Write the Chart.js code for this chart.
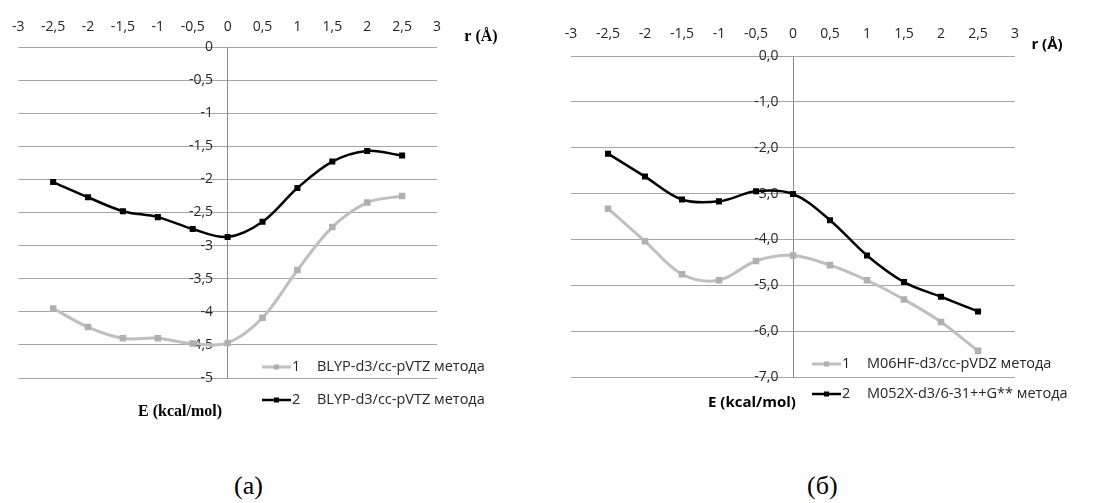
<!DOCTYPE html>
<html>
<head>
<meta charset="utf-8">
<script src="https://cdn.jsdelivr.net/npm/chart.js@4/dist/chart.umd.min.js"></script>
<style>
  body { margin: 0; background: #fff; width: 1099px; height: 503px; position: relative; overflow: hidden; }
  canvas { position: absolute; top: 0; }
  .caption { position: absolute; top: 471px; font-family: "Liberation Serif", serif; font-size: 26px; color: #000; }
</style>
</head>
<body>
<canvas id="chartA" width="540" height="430" style="left:0px"></canvas>
<canvas id="chartB" width="549" height="430" style="left:550px"></canvas>
<div class="caption" style="left:234px">(a)</div>
<div class="caption" style="left:807px">(б)</div>
<script>
// positions along the reaction coordinate, r (Å)
const rValues = [-2.5, -2, -1.5, -1, -0.5, 0, 0.5, 1, 1.5, 2, 2.5];

// (a) BLYP-d3/cc-pVTZ
const blypLabels = ['BLYP-d3/cc-pVTZ метода', 'BLYP-d3/cc-pVTZ метода'];
const blypSeries1 = [-3.95, -4.23, -4.40, -4.40, -4.48, -4.47, -4.09, -3.37, -2.72, -2.35, -2.25];
const blypSeries2 = [-2.04, -2.27, -2.48, -2.57, -2.75, -2.87, -2.64, -2.13, -1.73, -1.57, -1.64];

// (б) M06HF / M052X
const mLabels = ['M06HF-d3/cc-pVDZ метода', 'M052X-d3/6-31++G** метода'];
const m06Series = [-3.33, -4.04, -4.76, -4.89, -4.47, -4.35, -4.56, -4.89, -5.31, -5.80, -6.43];
const m052Series = [-2.13, -2.63, -3.13, -3.17, -2.95, -3.01, -3.58, -4.35, -4.93, -5.25, -5.57];

const grayColor = '#bfbfbf';
const blackColor = '#000000';
const tickColor = '#262626';
const sansFont = '"Open Sans", "Liberation Sans", sans-serif';

function toPoints(values) {
  return rValues.map((r, i) => ({ x: r, y: values[i] }));
}

function commaNum(v) {
  return String(v).replace('.', ',');
}

// legend + axis titles drawn onto the canvas
const extrasPlugin = {
  id: 'extras',
  afterDraw(chart, args, opts) {
    const ctx = chart.ctx;
    ctx.save();
    ctx.textBaseline = 'middle';
    // axis titles
    ctx.fillStyle = '#000';
    ctx.font = opts.titleFont;
    ctx.textAlign = 'center';
    ctx.fillText('r (Å)', opts.rTitle[0], opts.rTitle[1]);
    ctx.fillText('E (kcal/mol)', opts.eTitle[0], opts.eTitle[1]);
    // legend
    ctx.textAlign = 'left';
    ctx.font = '14.5px ' + sansFont;
    chart.data.datasets.forEach((ds, i) => {
      const y = opts.legendY[i];
      const x0 = opts.legendX;
      ctx.strokeStyle = ds.borderColor;
      ctx.lineWidth = ds.borderWidth;
      ctx.beginPath();
      ctx.moveTo(x0, y);
      ctx.lineTo(x0 + 29, y);
      ctx.stroke();
      ctx.fillStyle = ds.pointBackgroundColor;
      ctx.fillRect(x0 + 12, y - 2.5, 5, 5);
      ctx.fillStyle = tickColor;
      ctx.fillText(String(i + 1), x0 + 30, y);
      ctx.fillText(ds.label, x0 + 55, y);
    });
    ctx.restore();
  }
};

function makeChart(canvasId, labels, s1, s2, yMin, yStep, yFmt, pad, topH, xPad, extras) {
  return new Chart(document.getElementById(canvasId), {
    type: 'line',
    data: {
      datasets: [
        {
          label: labels[0],
          data: toPoints(s1),
          borderColor: grayColor,
          backgroundColor: grayColor,
          pointBackgroundColor: '#b0b0b0',
          pointBorderColor: '#b0b0b0',
          borderWidth: 3,
          pointStyle: 'rect',
          pointRadius: 2.5,
          tension: 0.35
        },
        {
          label: labels[1],
          data: toPoints(s2),
          borderColor: blackColor,
          backgroundColor: blackColor,
          pointBackgroundColor: blackColor,
          pointBorderColor: blackColor,
          borderWidth: 2.5,
          pointStyle: 'rect',
          pointRadius: 2.5,
          tension: 0.35
        }
      ]
    },
    options: {
      responsive: false,
      animation: false,
      devicePixelRatio: 1,
      layout: { padding: pad },
      plugins: {
        legend: { display: false },
        tooltip: { enabled: false },
        extras: extras
      },
      scales: {
        x: {
          type: 'linear',
          position: 'top',
          min: -3,
          max: 3,
          grid: { display: false, drawTicks: false },
          border: { display: false },
          ticks: {
            stepSize: 0.5,
            autoSkip: false,
            maxRotation: 0,
            padding: xPad,
            color: tickColor,
            font: { family: sansFont, size: 14 },
            callback: v => commaNum(v)
          },
          afterFit: s => { s.height = topH; }
        },
        y: {
          type: 'linear',
          position: { x: 0 },
          min: yMin,
          max: 0,
          grid: { color: '#a6a6a6', lineWidth: 1, drawTicks: false },
          border: { display: true, color: '#8c8c8c', width: 1 },
          ticks: {
            stepSize: yStep,
            color: tickColor,
            font: { family: sansFont, size: 14 },
            // labels sit right-aligned on the axis line; trailing spaces give the gap
            callback: v => yFmt(v) + '    '
          }
        }
      }
    },
    plugins: [extrasPlugin]
  });
}

makeChart('chartA', blypLabels, blypSeries1, blypSeries2, -5, 0.5, v => commaNum(v),
  { left: 18, right: 103, top: 0, bottom: 52 }, 47, 12,
  {
    titleFont: 'bold 16px "Liberation Serif", serif',
    rTitle: [481, 37],
    eTitle: [180, 412],
    legendX: 262,
    legendY: [367, 400]
  });

makeChart('chartB', mLabels, m06Series, m052Series, -7, 1, v => v.toFixed(1).replace('.', ','),
  { left: 21, right: 84, top: 0, bottom: 53 }, 56, 14,
  {
    titleFont: 'bold 15px "Open Sans", "Liberation Sans", sans-serif',
    rTitle: [497, 45],
    eTitle: [202, 403],
    legendX: 262,
    legendY: [364, 394]
  });
</script>
</body>
</html>
